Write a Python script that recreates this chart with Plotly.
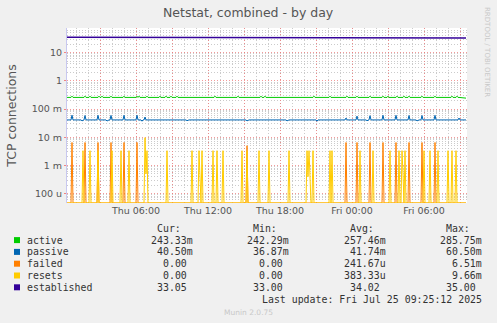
import plotly.graph_objects as go
import pandas as pd
import numpy as np

# ---------------- data ----------------
START = "2025-07-24 00:15"      # first 5-minute sample (Thu)
N_SAMPLES = 400                 # 5-minute samples shown

# active: baseline plus small bumps
active_base = 0.258
active_bump_idx = [5, 18, 23, 32, 35, 44, 57, 70, 72, 80, 93, 99, 104, 110, 148, 171,
                   194, 198, 247, 263, 280, 290, 303, 316, 321, 330, 337, 342, 355, 368, 385, 390]
active_bump_val = 0.2857
active_last = 0.2433

# passive: baseline plus spikes
passive_base = 0.0410
passive_spike_idx = [5, 18, 31, 44, 57, 70, 78, 279, 290, 303, 316, 329, 342, 355, 368, 392]
passive_spike_val = [0.0605, 0.0590, 0.0600, 0.0595, 0.0600, 0.0605, 0.0520, 0.0480, 0.0560,
                     0.0580, 0.0600, 0.0600, 0.0590, 0.0590, 0.0600, 0.0480]
passive_dip_idx = [15, 40, 75, 120, 180, 220, 250, 300, 350]
passive_dip_val = [0.0380, 0.0375, 0.0370, 0.0385, 0.0380, 0.0380, 0.0369, 0.0385, 0.0380]

# failed: spikes, zero elsewhere
failed_idx = [5, 18, 31, 44, 57, 70, 180, 279, 290, 303, 316, 329, 342, 355, 368]
failed_val = [0.0065, 0.0065, 0.0065, 0.0065, 0.0065, 0.0065, 0.0050, 0.0065, 0.0065,
              0.0065, 0.0065, 0.0065, 0.0065, 0.0065, 0.0065]

# resets: spikes, zero elsewhere
resets_idx = [16, 23, 31, 45, 54, 62, 78, 79, 80, 100, 125, 132, 133, 135, 146, 150, 156,
              175, 180, 192, 202, 222, 240, 241, 242, 243, 246, 263, 265, 293, 306, 323,
              332, 335, 336, 338, 357, 363, 371, 381, 385, 389]
resets_val = [0.00333, 0.00333, 0.00333, 0.00333, 0.00333, 0.00333, 0.00966, 0.00050, 0.00333,
              0.00333, 0.00333, 0.00333, 0.00030, 0.00333, 0.00333, 0.00333, 0.00333,
              0.00333, 0.00333, 0.00333, 0.00333, 0.00333, 0.00333, 0.00040, 0.00333, 0.00020,
              0.00333, 0.00333, 0.00333, 0.00333, 0.00333, 0.00333,
              0.00333, 0.00333, 0.00050, 0.00333, 0.00333, 0.00333, 0.00333, 0.00333, 0.00333, 0.00333]

# established
established_base = 34.0
established_low_idx = list(range(330, 400))
established_low_val = 33.05
established_high_idx = list(range(0, 60))
established_high_val = 35.0

legend_names = ["active", "passive", "failed", "resets", "established"]
legend_colors = ["#00cc00", "#0066b3", "#ff8000", "#ffcc00", "#330099"]
legend_cur = ["243.33m", "40.50m", "0.00", "0.00", "33.05"]
legend_min = ["242.29m", "36.87m", "0.00", "0.00", "33.00"]
legend_avg = ["257.46m", "41.74m", "241.67u", "383.33u", "34.02"]
legend_max = ["285.75m", "60.50m", "6.51m", "9.66m", "35.00"]
last_update = "Last update: Fri Jul 25 09:25:12 2025"

y_tick_vals = [1e-4, 1e-3, 1e-2, 1e-1, 1, 10]
y_tick_text = ["100 u", "1 m", "10 m", "100 m", "1", "10"]

# ---------------- build series ----------------
times = pd.date_range(START, periods=N_SAMPLES, freq="5min")

active = np.full(N_SAMPLES, active_base)
active[active_bump_idx] = active_bump_val
active[-1] = active_last

passive = np.full(N_SAMPLES, passive_base)
passive[passive_dip_idx] = passive_dip_val
passive[passive_spike_idx] = passive_spike_val

failed = np.zeros(N_SAMPLES)
failed[failed_idx] = failed_val

resets = np.zeros(N_SAMPLES)
resets[resets_idx] = resets_val

established = np.full(N_SAMPLES, established_base)
established[established_low_idx] = established_low_val
established[established_high_idx] = established_high_val

# ---------------- geometry ----------------
W, H = 497, 323
L, R, T, B = 67, 467, 28, 203
Y_LO, Y_HI = -4.333, 1.873
FLOOR = 10 ** Y_LO   # zero values are drawn on the bottom edge (as rrdtool does on log graphs)


def px(x):
    return (x - L) / (R - L)


def py(y):
    return (B - y) / (B - T)


fig = go.Figure()
series = [active, passive, failed, resets, established]
for name, color, vals in zip(legend_names, legend_colors, series):
    fig.add_trace(go.Scatter(
        x=times, y=np.maximum(vals, FLOOR), mode="lines", name=name,
        line=dict(color=color, width=1.6 if name == "established" else 1.0),
        showlegend=False, hoverinfo="skip"))

x_major = pd.date_range("2025-07-24 03:00", "2025-07-25 09:00", freq="3h")
x_major_text = [t.strftime("%a %H:%M") if t.hour % 6 == 0 else "" for t in x_major]
x_minor = pd.date_range("2025-07-24 01:00", "2025-07-25 09:00", freq="1h")
y_minor = [k * 10.0 ** e for e in range(-5, 2) for k in range(2, 10)]

fig.update_xaxes(
    range=[times[0], times[0] + pd.Timedelta(minutes=5 * N_SAMPLES)],
    tickmode="array", tickvals=x_major, ticktext=x_major_text,
    showgrid=True, gridcolor="rgba(240,120,120,0.75)", griddash="1px,2px", gridwidth=1,
    ticks="", tickfont=dict(family="DejaVu Sans", size=9.5, color="#555555"),
    minor=dict(tickmode="array", tickvals=x_minor, showgrid=True,
               gridcolor="rgba(190,190,190,0.8)", griddash="1px,2px", gridwidth=1),
    showline=False, zeroline=False, fixedrange=True)

fig.update_yaxes(
    type="log", range=[Y_LO, Y_HI],
    tickmode="array", tickvals=y_tick_vals, ticktext=y_tick_text,
    showgrid=True, gridcolor="rgba(240,120,120,0.75)", griddash="1px,2px", gridwidth=1,
    ticks="outside", ticklen=2, tickcolor="rgba(240,120,120,0.9)",
    tickfont=dict(family="DejaVu Sans", size=9.5, color="#555555"),
    minor=dict(tickmode="array", tickvals=y_minor, showgrid=True,
               gridcolor="rgba(190,190,190,0.8)", griddash="1px,2px", gridwidth=1),
    showline=True, linecolor="#c8c8f0", linewidth=1, zeroline=False, fixedrange=True,
    title=dict(text="TCP connections", font=dict(family="DejaVu Sans", size=12.5, color="#555555"),
               standoff=12))

annotations = [
    dict(text="Netstat, combined - by day", x=px(248), y=py(12), xref="paper", yref="paper",
         xanchor="center", yanchor="middle", showarrow=False,
         font=dict(family="DejaVu Sans", size=12.5, color="#555555")),
    dict(text="RRDTOOL / TOBI OETIKER", x=px(487), y=py(52), xref="paper", yref="paper",
         xanchor="center", yanchor="middle", showarrow=False, textangle=90,
         font=dict(family="DejaVu Sans", size=7, color="#c8c8c8")),
    dict(text="Munin 2.0.75", x=px(248), y=py(312), xref="paper", yref="paper",
         xanchor="center", yanchor="middle", showarrow=False,
         font=dict(family="DejaVu Sans", size=7.5, color="#c8c8c8")),
]

mono = dict(family="DejaVu Sans Mono", size=9.9, color="#333333")
CH = 5.97
col_edges = [194.3, 290.0, 386.7, 483.3]
headers = ["Cur:", "Min:", "Avg:", "Max:"]
row0 = 228.3
for edge, htxt in zip(col_edges, headers):
    annotations.append(dict(text=htxt, x=px(edge - 2 * CH), y=py(row0), xref="paper", yref="paper",
                            xanchor="right", yanchor="middle", showarrow=False, font=mono, borderpad=0))

shapes = []
for r, (nm, col) in enumerate(zip(legend_names, legend_colors)):
    yc = row0 + 11.8 * (r + 1)
    shapes.append(dict(type="rect", xref="paper", yref="paper",
                       x0=px(14), x1=px(20), y0=py(yc + 3), y1=py(yc - 3),
                       fillcolor=col, line=dict(width=0)))
    annotations.append(dict(text=nm, x=px(26), y=py(yc), xref="paper", yref="paper",
                            xanchor="left", yanchor="middle", showarrow=False, font=mono, borderpad=0))
    for edge, vals in zip(col_edges, [legend_cur, legend_min, legend_avg, legend_max]):
        v = vals[r]
        e = edge if v[-1].isalpha() else edge - CH
        annotations.append(dict(text=v, x=px(e), y=py(yc), xref="paper", yref="paper",
                                xanchor="right", yanchor="middle", showarrow=False, font=mono,
                                borderpad=0))

annotations.append(dict(text=last_update, x=px(483.3), y=py(row0 + 11.8 * 6), xref="paper",
                        yref="paper", xanchor="right", yanchor="middle", showarrow=False,
                        font=mono, borderpad=0))

fig.update_layout(
    width=W, height=H, autosize=False,
    margin=dict(l=L, r=W - R, t=T, b=H - B, pad=0),
    paper_bgcolor="#f0f0f0", plot_bgcolor="#ffffff",
    annotations=annotations, shapes=shapes, showlegend=False)

fig.write_html("out.html")
